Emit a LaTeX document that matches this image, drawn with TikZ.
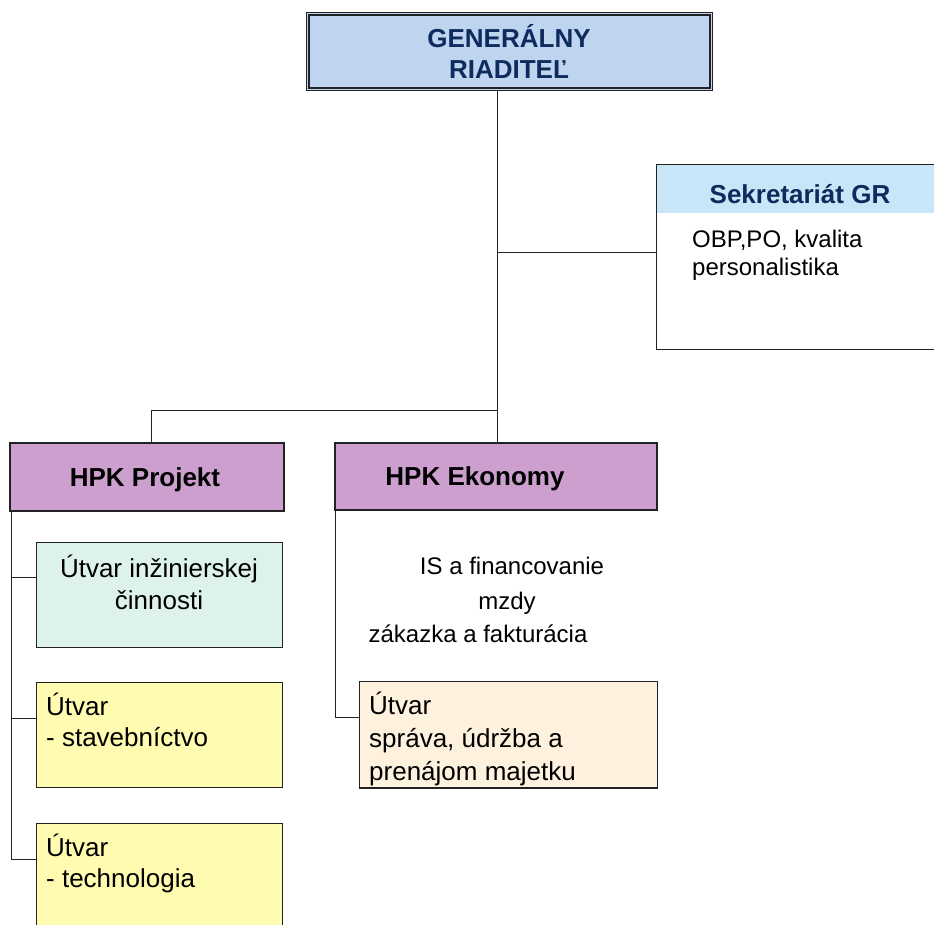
\documentclass[tikz,border=0pt]{standalone}
\usepackage{fontspec}
\setmainfont{Liberation Sans}
\usetikzlibrary{calc}
\definecolor{grblue}{RGB}{191,213,239}
\definecolor{navy}{RGB}{13,43,92}
\definecolor{sekhead}{RGB}{200,230,247}
\definecolor{hpkpurple}{RGB}{204,159,207}
\definecolor{mint}{RGB}{221,243,234}
\definecolor{paleyellow}{RGB}{255,251,176}
\definecolor{peach}{RGB}{254,241,222}
\definecolor{linec}{RGB}{34,34,34}
\begin{document}
\begin{tikzpicture}[x=1pt,y=-1pt,
  boxnode/.style={draw=linec, line width=1.3pt, inner sep=0pt, anchor=north west},
  conn/.style={draw=linec, line width=1pt},
  txt/.style={inner sep=0pt, font=\fontsize{26}{30}\selectfont},
  txtsm/.style={inner sep=0pt, font=\fontsize{24}{28}\selectfont},
  txtb/.style={inner sep=0pt, font=\bfseries\fontsize{26}{33}\selectfont}]
\clip (0,0) rectangle (934,924);
\fill[white] (0,0) rectangle (934,924);

% general director
\node[boxnode, line width=0.8pt, fill=grblue, minimum width=406pt, minimum height=78pt] (gr) at (306,12) {};
\draw[linec, line width=2.4pt] ($(gr.north west)+(3,3)$) rectangle ($(gr.south east)+(-3,-3)$);
\node[txtb, text=navy, anchor=base] (gr1) at (509,47) {GENERÁLNY};
\node[txtb, text=navy, anchor=base] (gr2) at (509,78) {RIADITEĽ};

% secretariat
\fill[sekhead] (656,164) rectangle (945,213);
\node[boxnode, minimum width=290pt, minimum height=185pt] (sek) at (656,164) {};
\node[txtb, text=navy, anchor=base] (sekh) at (800,203) {Sekretariát GR};
\node[txtsm, anchor=base west] (sek1) at (692,247) {OBP,PO, kvalita};
\node[txtsm, anchor=base west] (sek2) at (692,275) {personalistika};

% HPK boxes
\node[boxnode, line width=1.8pt, fill=hpkpurple, minimum width=274pt, minimum height=68pt] (hpkp) at (9,442) {};
\node[txtb, anchor=base] (hpkpt) at (145,486) {HPK Projekt};
\node[boxnode, line width=1.8pt, fill=hpkpurple, minimum width=322pt, minimum height=67pt] (hpke) at (334,442) {};
\node[txtb, anchor=base] (hpket) at (475,485) {HPK Ekonomy};

% left column
\node[boxnode, fill=mint, minimum width=246pt, minimum height=105pt] (inz) at (36,542) {};
\node[txt, anchor=base] (inz1) at (159,577) {Útvar inžinierskej};
\node[txt, anchor=base] (inz2) at (159,609) {činnosti};

\node[boxnode, fill=paleyellow, minimum width=246pt, minimum height=105pt] (stav) at (36,682) {};
\node[txt, anchor=base west] (stav1) at (46,715) {Útvar};
\node[txt, anchor=base west] (stav2) at (46,746) {- stavebníctvo};

\node[boxnode, fill=paleyellow, minimum width=246pt, minimum height=110pt] (tech) at (36,823) {};
\node[txt, anchor=base west] (tech1) at (46,856) {Útvar};
\node[txt, anchor=base west] (tech2) at (46,887) {- technologia};

% economy column
\node[txtsm, anchor=base] (ek1) at (512,574) {IS a financovanie};
\node[txtsm, anchor=base] (ek2) at (507,609) {mzdy};
\node[txtsm, anchor=base] (ek3) at (478,642) {zákazka a fakturácia};

\node[boxnode, fill=peach, minimum width=298pt, minimum height=106pt] (sprava) at (359,681) {};
\node[txt, anchor=base west] (spr1) at (369,714) {Útvar};
\node[txt, anchor=base west] (spr2) at (369,747) {správa, údržba a};
\node[txt, anchor=base west] (spr3) at (369,780) {prenájom majetku};
\draw[linec, line width=1.3pt] (sprava.south west) -- (sprava.south east);

% connectors
\coordinate (j1) at (497,410);
\coordinate (j2) at (497,252);
\coordinate (jl) at (151,410);
\draw[conn] (gr.south -| j1) -- (j1);
\draw[conn] (j2) -- (j2 -| sek.west);
\draw[conn] (j1) -- (jl) -- (jl |- hpkp.north);
\draw[conn] (j1) -- (j1 |- hpke.north);

\coordinate (s1) at (11,577);
\coordinate (s2) at (11,718);
\coordinate (s3) at (11,859);
\draw[conn] (hpkp.south west -| s3) -- (s3) -- (s3 -| tech.west);
\draw[conn] (s1) -- (s1 -| inz.west);
\draw[conn] (s2) -- (s2 -| stav.west);

\coordinate (e1) at (335,717);
\draw[conn] (hpke.south west -| e1) -- (e1) -- (e1 -| sprava.west);
\end{tikzpicture}
\end{document}
